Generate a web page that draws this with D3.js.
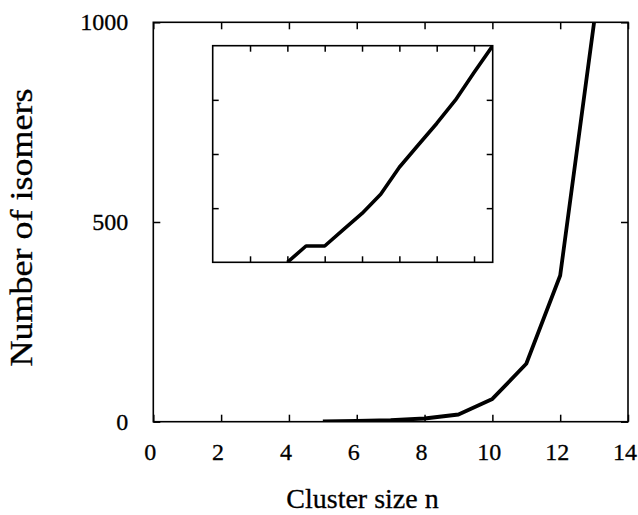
<!DOCTYPE html>
<html>
<head>
<meta charset="utf-8">
<script src="https://cdn.jsdelivr.net/npm/d3@7/dist/d3.min.js"></script>
<style>
  html, body { margin: 0; padding: 0; background: #fff; }
  svg { display: block; }
  text { font-family: "Liberation Serif", "Times New Roman", serif; fill: #000; }
</style>
</head>
<body>
<svg id="chart" width="638" height="515"></svg>
<script>
// ---- data ----
const clusterSizes = [5, 6, 7, 8, 9, 10, 11, 12, 13];
const isomerCounts = [1, 2, 4, 8, 18, 57, 145, 366, 1000];
const insetSizes = [4, 5, 6, 7, 8, 9, 10, 11, 12, 13, 14, 15];
const insetCounts = [1, 2, 2, 4, 8, 18, 57, 145, 366, 988, 3200, 10000];
const xTicks = [0, 2, 4, 6, 8, 10, 12, 14];
const yTicks = [0, 500, 1000];
const insetXTicks = [2, 4, 6, 8, 10, 12, 14];
const insetYTicks = [10, 100, 1000];
const xTitle = "Cluster size n";
const yTitle = "Number of isomers";

const svg = d3.select("#chart");

// ---- main plot ----
const M = { left: 153.3, right: 628, top: 22.3, bottom: 421.7 };
const x = d3.scaleLinear().domain([0, 14]).range([M.left, M.right]);
const y = d3.scaleLinear().domain([0, 1000]).range([M.bottom, M.top]);

const defs = svg.append("defs");
defs.append("clipPath").attr("id", "clipMain").append("rect")
  .attr("x", M.left).attr("y", M.top).attr("width", M.right - M.left).attr("height", M.bottom - M.top);

const tickLen = 7;
function styleAxis(g, fs) {
  g.select(".domain").remove();
  g.selectAll(".tick line").attr("stroke", "#000").attr("stroke-width", 1.5);
  g.selectAll(".tick text").attr("font-family", "Liberation Serif, Times New Roman, serif")
    .attr("font-size", fs).attr("fill", "#000")
    .attr("stroke", "#000").attr("stroke-width", 0.3);
}

svg.append("g").attr("transform", `translate(0,${M.bottom})`)
  .call(d3.axisBottom(x).tickValues(xTicks).tickSizeInner(-tickLen).tickSizeOuter(0).tickPadding(21).tickFormat(d3.format("d")))
  .call(g => styleAxis(g, 24))
  .call(g => g.selectAll(".tick text").attr("dx", -3.5));
svg.append("g").attr("transform", `translate(0,${M.top})`)
  .call(d3.axisTop(x).tickValues(xTicks).tickSizeInner(-tickLen).tickSizeOuter(0).tickFormat(""))
  .call(g => styleAxis(g, 24));
svg.append("g").attr("transform", `translate(${M.left},0)`)
  .call(d3.axisLeft(y).tickValues(yTicks).tickSizeInner(-tickLen).tickSizeOuter(0).tickPadding(25).tickFormat(d3.format("d")))
  .call(g => styleAxis(g, 24));
svg.append("g").attr("transform", `translate(${M.right},0)`)
  .call(d3.axisRight(y).tickValues(yTicks).tickSizeInner(-tickLen).tickSizeOuter(0).tickFormat(""))
  .call(g => styleAxis(g, 24));

svg.append("rect").attr("x", M.left).attr("y", M.top)
  .attr("width", M.right - M.left).attr("height", M.bottom - M.top)
  .attr("fill", "none").attr("stroke", "#000").attr("stroke-width", 1.6);

const mainLine = d3.line().x((d, i) => x(clusterSizes[i])).y(d => y(d));
svg.append("path").datum(isomerCounts)
  .attr("clip-path", "url(#clipMain)")
  .attr("d", mainLine).attr("fill", "none").attr("stroke", "#000")
  .attr("stroke-width", 3.8).attr("stroke-linejoin", "round");

// ---- inset ----
const I = { left: 212.7, right: 492.7, top: 45.7, bottom: 262.3 };
const xi = d3.scaleLinear().domain([0, 15]).range([I.left, I.right]);
const yi = d3.scaleLog().domain([1, 10000]).range([I.bottom, I.top]);
defs.append("clipPath").attr("id", "clipInset").append("rect")
  .attr("x", I.left).attr("y", I.top).attr("width", I.right - I.left).attr("height", I.bottom - I.top);

const iTick = 6;
svg.append("g").attr("transform", `translate(0,${I.bottom})`)
  .call(d3.axisBottom(xi).tickValues(insetXTicks).tickSizeInner(-iTick).tickSizeOuter(0).tickFormat(""))
  .call(g => styleAxis(g, 24));
svg.append("g").attr("transform", `translate(0,${I.top})`)
  .call(d3.axisTop(xi).tickValues(insetXTicks).tickSizeInner(-iTick).tickSizeOuter(0).tickFormat(""))
  .call(g => styleAxis(g, 24));
svg.append("g").attr("transform", `translate(${I.left},0)`)
  .call(d3.axisLeft(yi).tickValues(insetYTicks).tickSizeInner(-iTick).tickSizeOuter(0).tickFormat(""))
  .call(g => styleAxis(g, 24));
svg.append("g").attr("transform", `translate(${I.right},0)`)
  .call(d3.axisRight(yi).tickValues(insetYTicks).tickSizeInner(-iTick).tickSizeOuter(0).tickFormat(""))
  .call(g => styleAxis(g, 24));

svg.append("rect").attr("x", I.left).attr("y", I.top)
  .attr("width", I.right - I.left).attr("height", I.bottom - I.top)
  .attr("fill", "none").attr("stroke", "#000").attr("stroke-width", 1.6);

const insetLine = d3.line().x((d, i) => xi(insetSizes[i])).y(d => yi(d));
svg.append("path").datum(insetCounts)
  .attr("clip-path", "url(#clipInset)")
  .attr("d", insetLine).attr("fill", "none").attr("stroke", "#000")
  .attr("stroke-width", 3.6).attr("stroke-linejoin", "round");

// ---- titles ----
svg.append("text").attr("x", 362.5).attr("y", 508)
  .attr("text-anchor", "middle").attr("font-size", 28)
  .attr("stroke", "#000").attr("stroke-width", 0.3).text(xTitle);
svg.append("text").attr("transform", "translate(31.5,227.5) rotate(-90)")
  .attr("text-anchor", "middle").attr("font-size", 32)
  .attr("textLength", 278).attr("lengthAdjust", "spacingAndGlyphs")
  .attr("stroke", "#000").attr("stroke-width", 0.3).text(yTitle);
</script>
</body>
</html>
